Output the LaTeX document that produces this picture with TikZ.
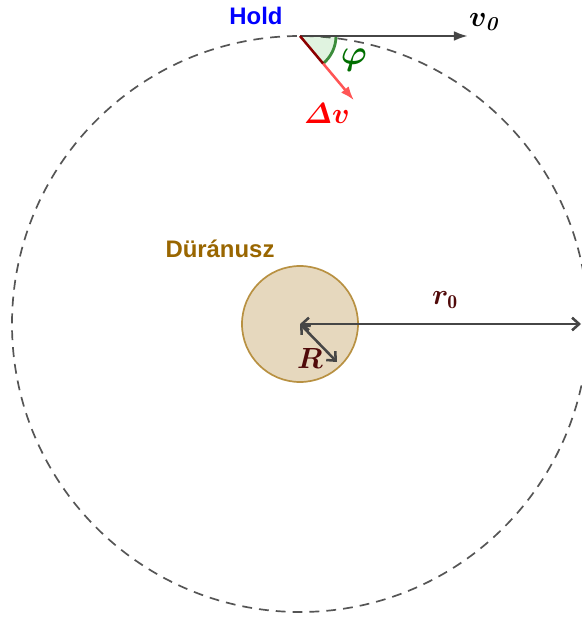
\documentclass[tikz,border=0pt]{standalone}
\usepackage{amsmath,amssymb}
\usepackage{bm}
\usepackage{fontspec}
\newfontfamily\labelfont{Liberation Sans}
\usetikzlibrary{positioning,calc,arrows.meta}
\definecolor{orbitgray}{RGB}{85,85,85}
\definecolor{arrowgray}{RGB}{70,70,70}
\definecolor{planetfill}{RGB}{230,216,190}
\definecolor{planetedge}{RGB}{184,145,66}
\definecolor{planetname}{RGB}{153,102,0}
\definecolor{dvred}{RGB}{255,85,85}
\definecolor{anglegreen}{RGB}{60,140,60}
\definecolor{phigreen}{RGB}{0,110,0}
\definecolor{lenbrown}{RGB}{80,10,10}
\tikzset{
  bigtext/.style={font=\labelfont\bfseries\fontsize{17}{20}\selectfont},
  mathtext/.style={font=\fontsize{20}{22}\selectfont},
  lenarrow/.style={draw=arrowgray,line width=1.8pt,{Straight Barb[length=5pt,width=9pt]}-{Straight Barb[length=5pt,width=9pt]}}
}
\begin{document}
\begin{tikzpicture}[x=0.025cm,y=0.025cm]
		\useasboundingbox (-300,-294) rectangle (281,324);
		\coordinate (O) at (0,0);
		\coordinate (hold) at (0,288);
		\coordinate (vend) at (168,288);
		\coordinate (dvend) at ($(hold)+(-50:84)$);
		\coordinate (rend) at (281,0);
		\coordinate (Rend) at (37,-38);
		
		\draw [orbitgray,line width=1.2pt,dash pattern=on 7pt off 5pt] (O) circle (288);
		\draw [planetedge,fill=planetfill,line width=1.2pt] (O) circle (58);
		
		\draw [lenarrow] (O) -- (rend);
		\draw [lenarrow] (O) -- (Rend);
		
		\fill [green!60!black,opacity=0.12] (hold) -- ++(0:36) arc (0:-50:36) -- cycle;
		\draw [anglegreen,line width=2pt] ($(hold)+(0:36)$) arc (0:-50:36);
		\draw [anglegreen!50!black,line width=1.6pt] (hold) -- ++(0:36);
		\draw [arrowgray,line width=1.8pt,-{Latex[length=10pt,width=7pt]}] (hold) -- (vend);
		\draw [red!55!black,line width=1.8pt] (hold) -- ++(-50:36);
		\draw [dvred,line width=1.8pt,-{Latex[length=10pt,width=7pt]}] ($(hold)+(-50:36)$) -- (dvend);
		
		\node (nhold) [bigtext,text=blue] at (-44,308) {Hold};
		\node (nplanet) [bigtext,text=planetname] at (-80,75) {Düránusz};
		\node (nv) [mathtext] at (184,302) {$\bm{v}_{\textbf{\textit{0}}}$};
		\node (ndv) [mathtext,font=\fontsize{21}{22}\selectfont,text=red] at (27,211) {$\bm{\varDelta v}$};
		\node (nphi) [mathtext,font=\fontsize{24}{26}\selectfont,text=phigreen] at (54,264) {$\bm{\varphi}$};
		\node (nr) [mathtext,text=lenbrown] at (145,24) {$\bm{r}_{\mathbf{0}}$};
		\node (nR) [mathtext,text=lenbrown] at (10,-34) {$\bm{R}$};
	\end{tikzpicture}
\end{document}
